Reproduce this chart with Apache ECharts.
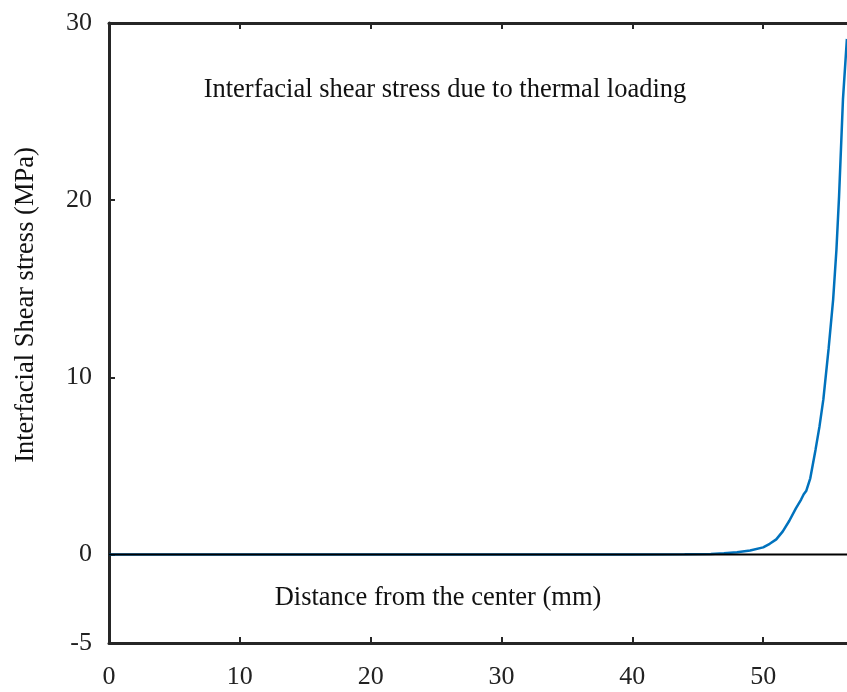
<!DOCTYPE html>
<html>
<head>
<meta charset="utf-8">
<script src="https://cdn.jsdelivr.net/npm/echarts@6/dist/echarts.min.js"></script>
<style>html,body{margin:0;padding:0;background:#fff}#c{width:847px;height:692px}</style>
</head>
<body>
<div id="c"></div>
<script>
const titleText = "Interfacial shear stress due to thermal loading";
const xName = "Distance from the center (mm)";
const yName = "Interfacial Shear stress (MPa)";
const xTicks = [0, 10, 20, 30, 40, 50, 60];
const yTicks = [-5, 0, 10, 20, 30];
const distance = [0, 10, 20, 30, 40, 44, 46, 47, 48, 49, 50, 50.5, 51, 51.5, 52, 52.5, 52.9, 53.1, 53.3, 53.6, 54.0, 54.3, 54.6, 55.0, 55.35, 55.6, 55.8, 56.1, 56.4];
const stress = [0, 0, 0, 0, 0, 0.01, 0.03, 0.06, 0.12, 0.22, 0.4, 0.6, 0.85, 1.3, 1.9, 2.6, 3.1, 3.4, 3.6, 4.3, 5.9, 7.2, 8.75, 11.6, 14.4, 17.2, 20.2, 25.7, 29.1];
const zeroLineX = [0, 60];
const zeroLineY = [0, 0];

const font = "'Liberation Serif','Times New Roman',serif";
const axisColor = '#262626';
const chart = echarts.init(document.getElementById('c'));
const axisCommon = {
  type: 'value', min: 0, max: 60, interval: 10,
  axisLine: {onZero: false, lineStyle: {color: axisColor, width: 3}},
  axisTick: {inside: true, length: 6, lineStyle: {color: axisColor, width: 2}},
  splitLine: {show: false}
};
chart.setOption({
  animation: false,
  grid: {left: 109, top: 23, height: 620, width: 785, containLabel: false, outerBoundsMode: 'none'},
  xAxis: [
    Object.assign({}, axisCommon, {
      position: 'bottom',
      axisLabel: {color: '#222', fontFamily: font, fontSize: 26, margin: 21}
    }),
    Object.assign({}, axisCommon, {
      position: 'top',
      axisLabel: {show: false}
    })
  ],
  yAxis: {
    type: 'value', min: -5, max: 30, interval: 5,
    axisLine: {onZero: false, lineStyle: {color: axisColor, width: 3}},
    axisTick: {inside: true, length: 6, lineStyle: {color: axisColor, width: 2}, customValues: yTicks},
    axisLabel: {color: '#222', fontFamily: font, fontSize: 26, margin: 17, padding: [6, 0, 0, 0], customValues: yTicks},
    splitLine: {show: false}
  },
  graphic: [
    {type: 'text', style: {text: titleText, x: 445, y: 90, align: 'center', verticalAlign: 'middle', font: "26.5px " + font, fill: '#111'}},
    {type: 'text', style: {text: xName, x: 438, y: 598, align: 'center', verticalAlign: 'middle', font: "26.5px " + font, fill: '#111'}},
    {type: 'text', x: 26, y: 305, rotation: Math.PI / 2, style: {text: yName, x: 0, y: 0, align: 'center', verticalAlign: 'middle', font: "26.5px " + font, fill: '#111'}}
  ],
  series: [
    {type: 'line', data: distance.map((d, i) => [d, stress[i]]), showSymbol: false,
      lineStyle: {color: '#0072BD', width: 2.5}, z: 2, clip: false},
    {type: 'line', data: zeroLineX.map((d, i) => [d, zeroLineY[i]]), showSymbol: false,
      lineStyle: {color: '#000', width: 2}, z: 3}
  ]
});
</script>
</body>
</html>
